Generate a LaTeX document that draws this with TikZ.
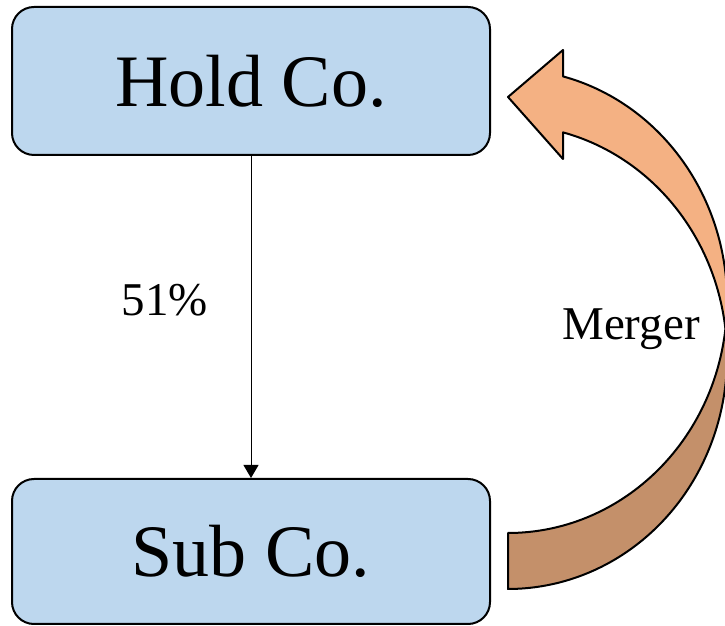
\documentclass[tikz,border=0pt]{standalone}
\usepackage{fontspec}
\setmainfont{Liberation Serif}
\usetikzlibrary{arrows.meta}
\definecolor{boxblue}{HTML}{BDD7EE}
\definecolor{arrlight}{HTML}{F4B183}
\definecolor{arrdark}{HTML}{C4906A}
\begin{document}
\begin{tikzpicture}[x=1pt,y=1pt,
 company/.style={draw,line width=2pt,rounded corners=22pt,fill=boxblue,minimum width=478pt,inner sep=0pt,font=\fontsize{74}{80}\selectfont},
 tag/.style={font=\fontsize{47}{52}\selectfont},
 band/.style={line width=2pt,line join=round},
 lobe/.style={x radius=219,y radius=232}]
\useasboundingbox (0,0) rectangle (725,626);
	\node[company,minimum height=148pt] (hold) at (251,545) {Hold Co.};
	\node[company,minimum height=145pt] (sub) at (251,74.5) {Sub Co.};
	\draw[-{Triangle[length=13pt,width=15pt]},line width=1pt] (hold) -- (sub);
	\node[tag] (pct) at (165,326) {51\%};
% curved arrow back up to the holding, two shifted half ellipses
	\filldraw[band,fill=arrlight] (508,529)--(563,576)--(563,549.6)
	 arc[lobe,start angle=75.46,end angle=-6.93]
	 arc[lobe,start angle=6.93,end angle=75.46]--(563,467)--cycle;
	\filldraw[band,fill=arrdark] (725.4,297)
	 arc[lobe,start angle=6.93,end angle=-90]--(508,93)
	 arc[lobe,start angle=-90,end angle=-6.93]--cycle;
	\node[tag] (merger) at (631,297) {Merger};
\end{tikzpicture}
\end{document}
